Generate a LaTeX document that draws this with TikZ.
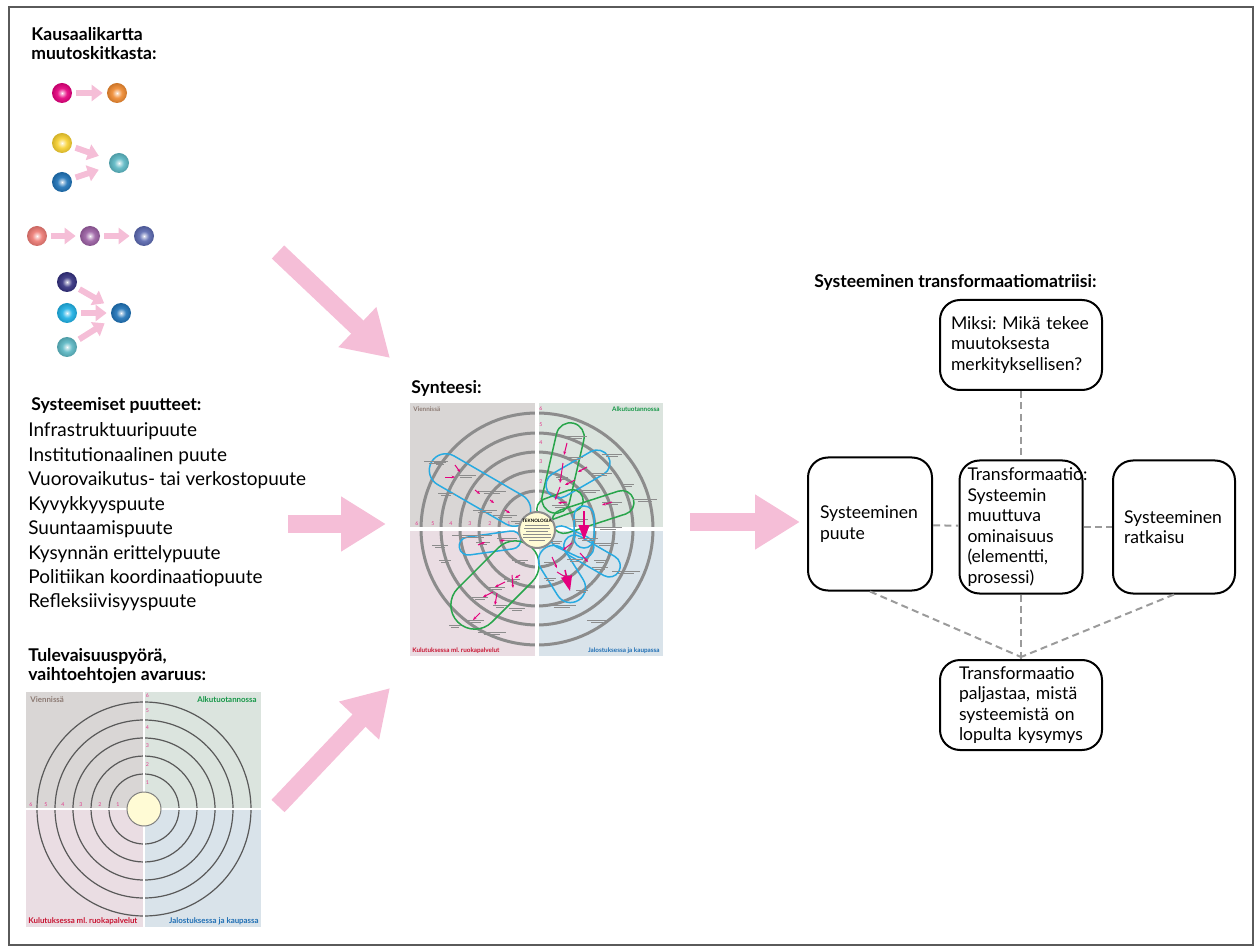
\documentclass[tikz,border=0pt]{standalone}
\usepackage{fontspec}
\setmainfont{Lato}
\usetikzlibrary{arrows.meta,positioning,shapes.misc}
\frenchspacing

\definecolor{arrpink}{RGB}{245,190,215}
\definecolor{framegray}{RGB}{90,90,90}
\definecolor{dashgray}{RGB}{155,155,155}
\definecolor{qgray}{RGB}{217,214,213}
\definecolor{qgreen}{RGB}{219,228,222}
\definecolor{qpink}{RGB}{234,221,227}
\definecolor{qblue}{RGB}{217,227,234}
\definecolor{lbrown}{RGB}{140,122,115}
\definecolor{lgreen}{RGB}{20,150,70}
\definecolor{lred}{RGB}{200,20,50}
\definecolor{lblue}{RGB}{30,110,180}
\definecolor{nummag}{RGB}{225,60,140}
\definecolor{capblue}{RGB}{40,170,225}
\definecolor{capgreen}{RGB}{40,165,75}
\definecolor{arrmag}{RGB}{228,0,125}
\definecolor{discyel}{RGB}{255,251,213}
\definecolor{ringgray}{RGB}{140,140,140}
% pallot
\definecolor{cmag}{RGB}{230,0,126}
\definecolor{corange}{RGB}{240,138,48}
\definecolor{cyellow}{RGB}{248,209,48}
\definecolor{cblue}{RGB}{30,115,184}
\definecolor{cteal}{RGB}{91,184,196}
\definecolor{csalmon}{RGB}{238,122,116}
\definecolor{cpurple}{RGB}{155,95,163}
\definecolor{cviolet}{RGB}{90,104,176}
\definecolor{cnavy}{RGB}{51,48,127}
\definecolor{ccyan}{RGB}{30,177,230}
\colorlet{sphcol}{cblue}
\pgfdeclareradialshading[sphcol]{sphere}{\pgfpoint{0bp}{0bp}}{%
  color(0bp)=(white); color(3bp)=(sphcol!30!white); color(12bp)=(sphcol!90!white);
  color(25bp)=(sphcol!85!black); color(50bp)=(sphcol!85!black)}

\newlength{\pxu}\setlength{\pxu}{0.02cm}

\tikzset{
  ball/.style={circle, minimum size=20\pxu, inner sep=0pt, /utils/exec={\colorlet{sphcol}{#1}}, shading=sphere, shade},
  smallarr/.style={draw=arrpink, line width=0.12cm, -{Triangle[length=0.22cm,width=0.32cm]}, shorten <=4\pxu, shorten >=4\pxu},
  bigarr/.style={draw=arrpink, line width=0.36cm, -{Triangle[length=0.9cm,width=1.04cm]}},
  head/.style={font=\bfseries\fontsize{10}{11}\selectfont, inner sep=0pt, align=left},
  plain/.style={font=\fontsize{10.8}{13}\selectfont, inner sep=0pt},
  mbox/.style={draw, line width=2\pxu, rounded corners=20\pxu, font=\fontsize{10}{11.7}\selectfont, align=left},
  dashconn/.style={draw=dashgray, line width=2\pxu, dash pattern=on 4pt off 2.5pt},
  quadlab/.style={font=\bfseries\fontsize{4.5}{5}\selectfont, inner sep=0pt},
  squadlab/.style={font=\bfseries\fontsize{3.6}{4}\selectfont, inner sep=0pt},
  numlab/.style={text=nummag, font=\fontsize{3}{3}\selectfont, inner sep=0pt},
  capsule/.style={rounded rectangle, draw=#1, line width=1.5\pxu, inner sep=0pt},
  magarr/.style={draw=arrmag, line width=1\pxu, -{Stealth[length=2pt,width=1.6pt]}},
  bigmag/.style={draw=arrmag, line width=1.5\pxu, -{Triangle[length=0.3cm,width=0.22cm]}},
  txtmark/.style={draw=black!45, line width=0.45\pxu}
}

\begin{document}
\begin{tikzpicture}[x=0.02cm,y=-0.02cm]
\useasboundingbox (0,0) rectangle (1257,952);
\draw[framegray, line width=1.2\pxu] (9,7) rectangle (1253,945);

% kausaalikartta
\node[head, anchor=north west] (kausal) at (31,27) {Kausaalikartta\\muutoskitkasta:};
\node[ball=cmag] (a1) at (62,93) {};
\node[ball=corange] (a2) at (117,93) {};
\draw[smallarr] (a1) -- (a2);
\node[ball=cyellow] (b1) at (62,143) {};
\node[ball=cblue] (b2) at (62,182) {};
\node[ball=cteal] (b3) at (119,163) {};
\draw[smallarr, shorten >=11\pxu] (b1) -- (b3);
\draw[smallarr, shorten >=11\pxu] (b2) -- (b3);
\node[ball=csalmon] (c1) at (37,236) {};
\node[ball=cpurple] (c2) at (90,236) {};
\node[ball=cviolet] (c3) at (144,236) {};
\draw[smallarr] (c1) -- (c2);
\draw[smallarr] (c2) -- (c3);
\node[ball=cnavy] (d1) at (67,282) {};
\node[ball=ccyan] (d2) at (67,313) {};
\node[ball=cteal] (d3) at (67,347) {};
\node[ball=cblue] (d4) at (121,313) {};
\draw[smallarr, shorten >=9\pxu] (d1) -- (d4);
\draw[smallarr] (d2) -- (d4);
\draw[smallarr, shorten >=9\pxu] (d3) -- (d4);

% puutteet
\node[head, anchor=base west] (puute) at (31,411) {Systeemiset puutteet:};
\foreach \t [count=\i] in {Infrastruktuuripuute, Institutionaalinen puute,
  Vuorovaikutus- tai verkostopuute, Kyvykkyyspuute, Suuntaamispuute,
  Kysynnän erittelypuute, Politiikan koordinaatiopuute, Refleksiivisyyspuute}
  \node[plain, anchor=base west] (p\i) at (28,{437+24.4*(\i-1)}) {\t};

% tulevaisuuspyora
\node[head, anchor=north west] (pyora) at (28,648) {Tulevaisuuspyörä,\\vaihtoehtojen avaruus:};
\fill[qgray] (26,692) rectangle (144,809);
\fill[qgreen] (144,692) rectangle (261,809);
\fill[qpink] (26,809) rectangle (144,927);
\fill[qblue] (144,809) rectangle (261,927);
\foreach \r in {35,53,71,89,107}
  \draw[black!65, line width=1.2\pxu] (144,809) circle (\r);
\draw[white, line width=2.5\pxu] (144,692) -- (144,927);
\draw[white, line width=2.5\pxu] (26,809) -- (261,809);
\node[circle, draw=black!50, line width=1\pxu, fill=discyel, minimum size=34\pxu, inner sep=0pt] (fdisc) at (144,809) {};
\foreach \n/\r in {1/26,2/44,3/63,4/81,5/98,6/113} {
  \node[numlab, anchor=west] at (145.5,809-\r) {\n};
  \node[numlab, anchor=south] at (144-\r,807) {\n};
}
\node[quadlab, text=lbrown, anchor=north west] at (30,696) {Viennissä};
\node[quadlab, text=lgreen, anchor=north east] at (257,696) {Alkutuotannossa};
\node[quadlab, text=lred, anchor=south west] at (28,925) {Kulutuksessa ml. ruokapalvelut};
\node[quadlab, text=lblue, anchor=south east] at (259,925) {Jalostuksessa ja kaupassa};

% synteesi
\node[head, anchor=base west] (synt) at (411,394) {Synteesi:};
\fill[qgray] (410,403) rectangle (537,529);
\fill[qgreen] (537,403) rectangle (663,529);
\fill[qpink] (410,529) rectangle (537,656);
\fill[qblue] (537,529) rectangle (663,656);
\begin{scope}
  \clip (410,403) rectangle (663,656);
  \foreach \r in {38,58,77,96,116}
    \draw[ringgray, line width=3\pxu] (537,529) circle (\r);
\end{scope}
\draw[white, line width=4\pxu] (537,403) -- (537,656);
\draw[white, line width=4\pxu] (410,529) -- (663,529);
\foreach \n/\r in {1/28,2/47,3/67,4/86,5/104,6/120} {
  \node[numlab, anchor=west] at (539,529-\r) {\n};
  \node[numlab, anchor=south] at (537-\r,526) {\n};
}
\node[squadlab, text=lbrown, anchor=north west] at (413,406) {Viennissä};
\node[squadlab, text=lgreen, anchor=north east] at (660,406) {Alkutuotannossa};
\node[squadlab, text=lred, anchor=south west] at (412,654) {Kulutuksessa ml. ruokapalvelut};
\node[squadlab, text=lblue, anchor=south east] at (660,654) {Jalostuksessa ja kaupassa};
% silmukat
\foreach \x/\y/\l/\w/\a/\c in {480/490/112/33/-30/capblue, 563/468/92/28/77/capgreen,
  578/474/70/26/30/capblue, 560/505/48/22/20/capgreen, 593/512/85/24/18/capgreen,
  584/527/42/20/90/capblue, 490/543/62/18/8/capblue, 495/585/105/48/45/capgreen,
  572/542/46/22/-25/capblue, 592/556/62/22/-30/capblue, 562/574/62/30/-58/capblue}
  \node[capsule=\c, minimum width=\l\pxu, minimum height=\w\pxu, rotate=\a] at (\x,\y) {};
% pienet tekstit
\foreach \x/\y/\w in {436/462/12, 466/476/10, 446/494/8, 492/492/14, 485/511/12, 505/516/12,
  520/522/9, 575/437/12, 575/458/8, 562/478/6, 600/474/12, 612/455/10, 590/491/10,
  628/485/6, 560/506/8, 612/503/10, 645/500/12, 580/520/8, 608/528/14, 472/536/20,
  440/546/8, 483/543/7, 507/539/10, 445/561/6, 520/561/8, 512/580/8, 497/588/8,
  480/598/8, 500/606/7, 517/609/8, 476/621/8, 455/626/6, 492/633/14, 588/539/10,
  606/544/12, 556/542/6, 575/560/8, 600/561/6, 600/568/8, 626/572/14, 550/563/6,
  568/576/6, 550/579/6, 582/591/6, 562/606/14, 597/621/10, 440/463/6}
{
  \draw[txtmark] (\x-\w,\y-1.2) -- (\x+\w,\y-1.2);
  \draw[txtmark] (\x-\w*0.6,\y+1.2) -- (\x+\w*0.6,\y+1.2);
}
% nuolet
\foreach \xa/\ya/\xb/\yb in {455/465/460/472, 445/477/455/477, 475/490/480/494,
  490/500/494/503, 505/510/510/513, 567/443/564/455, 563/463/560/483, 587/467/578/472,
  575/480/565/485, 560/487/555/500, 567/502/558/503, 612/502/602/505, 478/545/485/542,
  500/541/505/540, 520/575/515/578, 512/575/513/588, 505/582/495/587, 493/592/483/597,
  497/593/495/605, 480/613/473/620, 572/543/563/550, 580/553/588/562, 552/557/557/568,
  557/572/567/578}
  \draw[magarr] (\xa,\ya) -- (\xb,\yb);
\draw[bigmag] (584,511) -- (584,540);
\draw[bigmag] (565,570) -- (570,591);
\node[circle, draw=black!45, line width=2\pxu, fill=discyel, minimum size=36\pxu, inner sep=0pt] (sdisc) at (537,530) {};
\node[font=\bfseries\fontsize{2.6}{3}\selectfont, inner sep=0pt] at (537,521) {TEKNOLOGIA};
\foreach \y/\w in {525/12, 528/13, 531/11, 534/14, 537/14, 540/8}
  \draw[txtmark] (537-\w,\y) -- (537+\w,\y);

% isot nuolet
\coordinate (ka) at (278,252); \coordinate (kb) at (390,358);
\coordinate (pa) at (288,524); \coordinate (pb) at (386,524);
\coordinate (ta) at (278,806); \coordinate (tb) at (390,688);
\coordinate (sa) at (690,522); \coordinate (sb) at (800,522);
\draw[bigarr] (ka) -- (kb);
\draw[bigarr] (pa) -- (pb);
\draw[bigarr] (ta) -- (tb);
\draw[bigarr] (sa) -- (sb);

% matriisi
\node[head, anchor=base west] (matr) at (814,288) {Systeeminen transformaatiomatriisi:};
\node[mbox, minimum width=162\pxu, minimum height=90\pxu, text width=140\pxu, inner xsep=11\pxu] (miksi) at (1021,345)
  {Miksi: Mikä tekee\\muutoksesta\\merkityksellisen?};
\node[mbox, minimum width=124\pxu, minimum height=133\pxu, text width=100\pxu] (puutebox) at (870,524)
  {Systeeminen\\puute};
\node[mbox, minimum width=123\pxu, minimum height=133\pxu, text width=107\pxu, inner xsep=8\pxu] (transf) at (1021,527)
  {Transformaatio:\\Systeemin\\muuttuva\\ominaisuus\\(elementti,\\prosessi)};
\node[mbox, minimum width=122\pxu, minimum height=133\pxu, text width=100\pxu] (ratk) at (1174,527)
  {Systeeminen\\ratkaisu};
\node[mbox, minimum width=162\pxu, minimum height=90\pxu, text width=124\pxu] (paljas) at (1021,705)
  {Transformaatio\\paljastaa, mistä\\systeemistä on\\lopulta kysymys};
\coordinate (meet) at ([yshift=2\pxu]paljas.north);
\draw[dashconn] (miksi) -- (transf);
\draw[dashconn] (puutebox) -- (transf);
\draw[dashconn] (transf) -- (ratk);
\draw[dashconn] (transf) -- (paljas);
\draw[dashconn] (puutebox.south) -- (meet);
\draw[dashconn] (ratk.south) -- (meet);
\end{tikzpicture}
\end{document}
